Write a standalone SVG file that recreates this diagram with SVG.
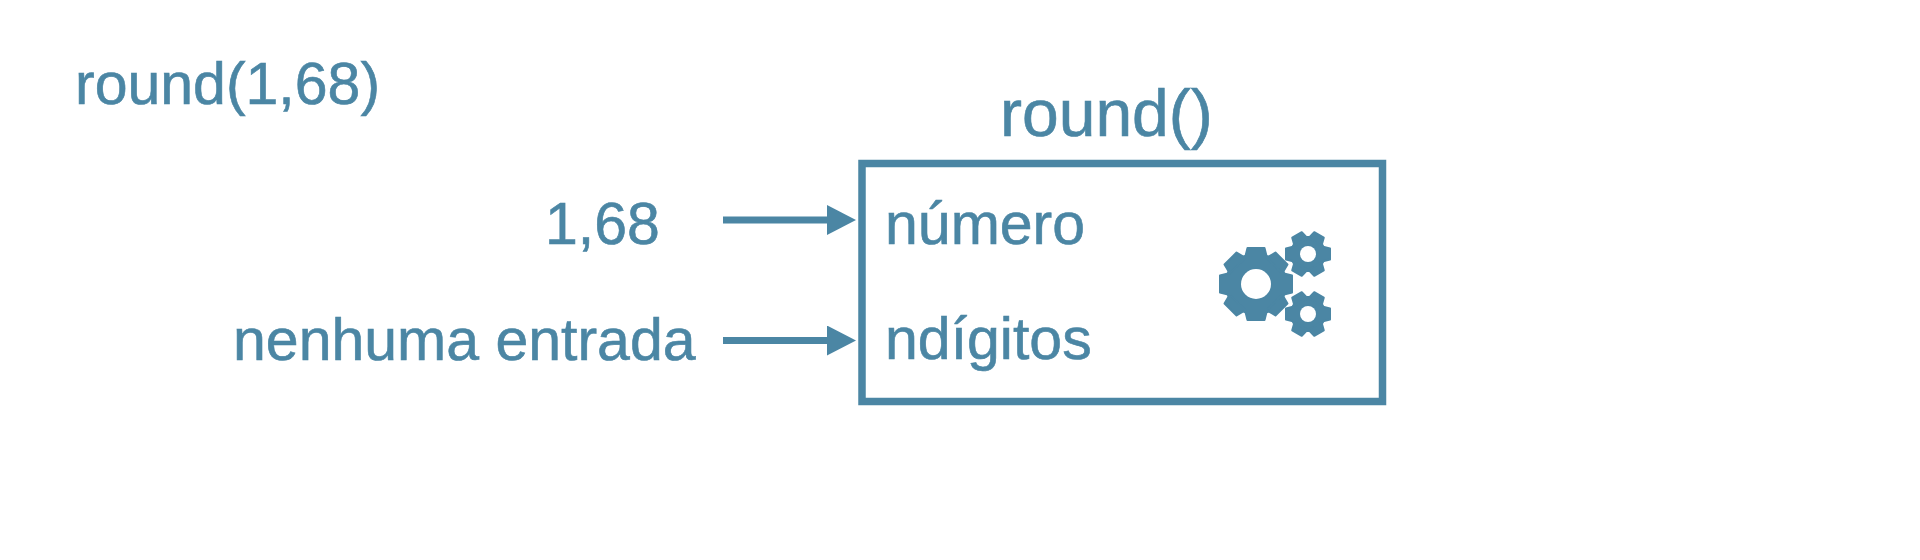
<svg xmlns="http://www.w3.org/2000/svg" width="1920" height="560" viewBox="0 0 1920 560">
<style>
text{font-family:"Liberation Sans",Arial,sans-serif;font-size:59px;fill:#4b86a4;stroke:#4b86a4;stroke-width:.6}
.ln{stroke:#4b86a4;stroke-width:7;fill:none}
.gear{fill:#4b86a4;stroke:#4b86a4;stroke-width:2;stroke-linejoin:round}
.hole{fill:#fff}
</style>
<defs>
<marker id="ah" markerUnits="userSpaceOnUse" markerWidth="31" markerHeight="30" refX="1" refY="15" orient="auto"><polygon points="0,0 29,15 0,30" fill="#4b86a4"/></marker>
<polygon id="t1" points="-11,-26 -8.500,-36 8.500,-36 11,-26"/>
<polygon id="t2" points="-7.500,-14 -5.500,-22 5.500,-22 7.500,-14"/>
<g id="big" class="gear"><circle r="30"/><use href="#t1"/><use href="#t1" transform="rotate(45)"/><use href="#t1" transform="rotate(90)"/><use href="#t1" transform="rotate(135)"/><use href="#t1" transform="rotate(180)"/><use href="#t1" transform="rotate(225)"/><use href="#t1" transform="rotate(270)"/><use href="#t1" transform="rotate(315)"/></g>
<g id="small" class="gear"><circle r="17"/><use href="#t2" transform="rotate(30)"/><use href="#t2" transform="rotate(90)"/><use href="#t2" transform="rotate(150)"/><use href="#t2" transform="rotate(210)"/><use href="#t2" transform="rotate(270)"/><use href="#t2" transform="rotate(330)"/></g>
</defs>
<rect width="1920" height="560" fill="#fff"/>
<g id="call"><text x="75" y="104">round(1,68)</text></g>
<g id="function"><text x="1000" y="136" style="font-size:66px">round()</text>
<rect class="ln" x="862" y="163.500" width="520.500" height="238" style="stroke-width:7.500"/>
<text x="885" y="244">número</text>
<text x="885" y="359">ndígitos</text>
<g id="gears"><use href="#big" x="1256" y="284"/><circle class="hole" cx="1256" cy="284" r="15"/>
<use href="#small" x="1308" y="254"/><circle class="hole" cx="1308" cy="254" r="8"/>
<use href="#small" x="1308" y="314"/><circle class="hole" cx="1308" cy="314" r="8"/></g></g>
<g id="input-numero"><text x="545" y="244">1,68</text></g>
<g id="input-ndigitos"><text x="233" y="360">nenhuma entrada</text></g>
<g id="connectors">
<line class="ln" x1="723" y1="220" x2="828" y2="220" marker-end="url(#ah)"/>
<line class="ln" x1="723" y1="340.500" x2="828" y2="340.500" marker-end="url(#ah)"/>
</g>
</svg>
